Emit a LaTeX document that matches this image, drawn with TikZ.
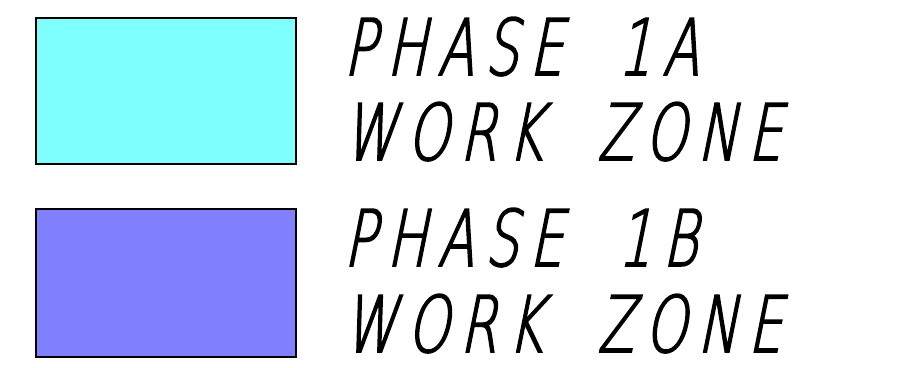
\documentclass[tikz,border=0pt]{standalone}
\usepackage{fontspec}
\newfontfamily\zonefont[FakeSlant=0.2, FakeStretch=0.68, FakeBold=2, LetterSpace=14]{DejaVu Sans ExtraLight}
\definecolor{zoneA}{RGB}{128,255,255}
\definecolor{zoneB}{RGB}{128,128,255}
\newcommand{\gap}{\hspace*{0.55cm}}
\tikzset{
  swatch/.style={draw=black, line width=0.6pt, minimum width=2.6cm, minimum height=1.46cm, inner sep=0pt},
  zonetext/.style={anchor=base west, inner sep=0pt, font=\zonefont\fontsize{22.2pt}{26pt}\selectfont}
}
\begin{document}
\begin{tikzpicture}
      \useasboundingbox (0,0) rectangle (9,3.68);

      % Phase 1A
      \node[swatch, fill=zoneA] (swA) at (1.66,2.77) {};
      \node[zonetext] (lblA1) at (3.43,2.93) {PHASE\gap 1A};
      \node[zonetext] (lblA2) at (3.43,2.08) {WORK\gap ZONE};

      % Phase 1B
      \node[swatch, fill=zoneB, minimum height=1.48cm] (swB) at (1.66,0.85) {};
      \node[zonetext] (lblB1) at (3.43,1.02) {PHASE\gap 1B};
      \node[zonetext] (lblB2) at (3.43,0.16) {WORK\gap ZONE};
    \end{tikzpicture}
\end{document}
